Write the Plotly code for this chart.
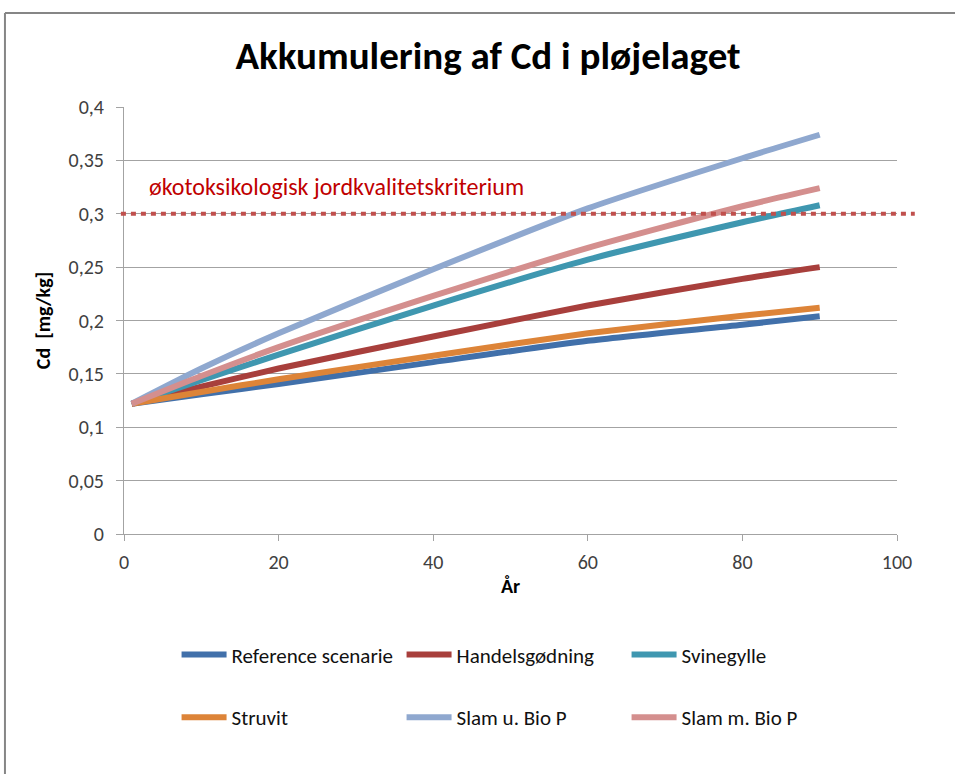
import plotly.graph_objects as go

# years
years = [1, 10, 20, 40, 60, 80, 90]

reference_scenarie = [0.122, 0.131, 0.1405, 0.161, 0.181, 0.196, 0.204]
handelsgodning = [0.122, 0.138, 0.155, 0.185, 0.214, 0.239, 0.250]
svinegylle = [0.122, 0.144, 0.168, 0.214, 0.257, 0.292, 0.308]
struvit = [0.122, 0.133, 0.145, 0.167, 0.188, 0.2045, 0.212]
slam_u_bio_p = [0.122, 0.155, 0.188, 0.248, 0.305, 0.352, 0.374]
slam_m_bio_p = [0.122, 0.148, 0.175, 0.223, 0.268, 0.307, 0.324]

series = [
    ("Reference scenarie", reference_scenarie, "#4170AA", "legend"),
    ("Handelsgødning", handelsgodning, "#A83F3C", "legend"),
    ("Svinegylle", svinegylle, "#3F97B0", "legend"),
    ("Struvit", struvit, "#DD8438", "legend2"),
    ("Slam u. Bio P", slam_u_bio_p, "#8FA8CF", "legend2"),
    ("Slam m. Bio P", slam_m_bio_p, "#D48F8E", "legend2"),
]

kriterium = 0.3
kriterium_label = "økotoksikologisk jordkvalitetskriterium"

y_tickvals = [0, 0.05, 0.1, 0.15, 0.2, 0.25, 0.3, 0.35, 0.4]
y_ticktext = ["0", "0,05", "0,1", "0,15", "0,2", "0,25", "0,3", "0,35", "0,4"]
x_tickvals = [0, 20, 40, 60, 80, 100]

FONT = "Carlito, Lato, sans-serif"
GRID = "#A3A3A3"

fig = go.Figure()
for name, vals, color, leg in series:
    fig.add_trace(go.Scatter(
        x=years, y=vals, name=name, mode="lines",
        line=dict(color=color, width=6, shape="spline", smoothing=0.6),
        legend=leg,
    ))

# criterion line, runs a little past the plot area like in Excel
fig.add_shape(type="line", xref="paper", yref="y",
              x0=-0.004, x1=1.023, y0=kriterium, y1=kriterium,
              line=dict(color="#C0504D", width=4, dash="5px,5px"))
fig.add_annotation(x=3, y=0.3255, xref="x", yref="y", text=kriterium_label,
                   showarrow=False, xanchor="left", yanchor="middle",
                   font=dict(family=FONT, size=24, color="#C00000"))

# outer chart border (top + left visible)
fig.add_shape(type="line", xref="paper", yref="paper",
              x0=-0.154, x1=1.1, y0=1.22, y1=1.22,
              line=dict(color="#868686", width=2))
fig.add_shape(type="line", xref="paper", yref="paper",
              x0=-0.154, x1=-0.154, y0=1.22, y1=-0.6,
              line=dict(color="#868686", width=2))

legend_common = dict(orientation="h", xanchor="left", yanchor="middle",
                     x=0.068, entrywidth=165, itemwidth=45,
                     font=dict(family=FONT, size=21, color="#111111"),
                     bgcolor="rgba(0,0,0,0)")

fig.update_layout(
    width=955, height=774,
    margin=dict(l=124, r=58, t=107, b=240),
    paper_bgcolor="white", plot_bgcolor="white",
    title=dict(text="<b>Akkumulering af Cd i pløjelaget</b>",
               x=488 / 955, xanchor="center", y=1 - 55 / 774, yanchor="middle",
               font=dict(family=FONT, size=39, color="#000000")),
    font=dict(family=FONT, size=20, color="#404040"),
    legend=dict(**legend_common, y=-0.283),
    legend2=dict(**legend_common, y=-0.43),
    xaxis=dict(range=[0, 100], tickvals=x_tickvals, showgrid=False,
               showline=True, linecolor=GRID, linewidth=1,
               ticks="outside", ticklen=6, tickcolor=GRID,
               ticklabelstandoff=4, zeroline=False,
               title=dict(text="<b>År</b>", standoff=5,
                          font=dict(family=FONT, size=20, color="#000000"))),
    yaxis=dict(range=[0, 0.4], tickvals=y_tickvals, ticktext=y_ticktext,
               showgrid=True, gridcolor=GRID, gridwidth=1,
               showline=True, linecolor=GRID, linewidth=1,
               ticks="outside", ticklen=7, tickcolor=GRID,
               ticklabelstandoff=8, zeroline=False,
               title=dict(text="<b>Cd&nbsp;&nbsp;[mg/kg]</b>", standoff=12,
                          font=dict(family=FONT, size=20, color="#000000"))),
)

fig.write_html("out.html", config={"displayModeBar": False},
               post_script="document.body.style.margin='0';")
